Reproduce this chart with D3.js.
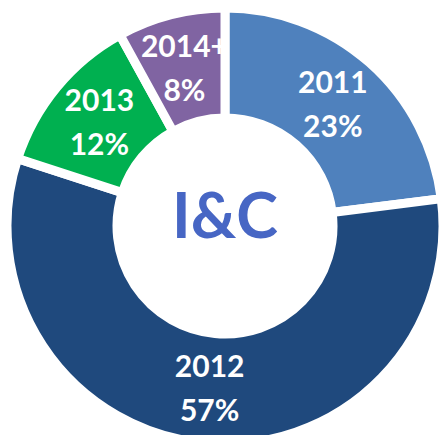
<!DOCTYPE html>
<html>
<head>
<meta charset="utf-8">
<script src="https://cdn.jsdelivr.net/npm/d3@7"></script>
<style>
  html, body { margin: 0; padding: 0; background: #ffffff; }
  svg { display: block; }
</style>
</head>
<body>
<svg id="chart" width="439" height="435"></svg>
<script>
// slice data
var categories = ["2011", "2012", "2013", "2014+"];
var shares = [23, 57, 12, 8];
var sliceColors = ["#4f81bd", "#1f497d", "#00b050", "#8064a2"];
var centerLabel = "I&C";

var width = 439, height = 435;
var cx = 225, cy = 226;
var outerR = 218, innerR = 108;

var data = categories.map(function (c, i) {
    return { name: c, value: shares[i], color: sliceColors[i] };
});

var svg = d3.select("#chart");
var g = svg.append("g").attr("transform", "translate(" + cx + "," + cy + ")");

var pie = d3.pie()
    .sort(null)
    .value(function (d) { return d.value; });

var arc = d3.arc()
    .innerRadius(innerR)
    .outerRadius(outerR);

var labelArc = d3.arc()
    .innerRadius(113)
    .outerRadius(213);

var arcs = pie(data);

// slices, white stroke makes the gaps
g.selectAll("path.slice")
    .data(arcs)
    .enter()
    .append("path")
    .attr("class", "slice")
    .attr("d", arc)
    .attr("fill", function (d) { return d.data.color; })
    .attr("stroke", "#ffffff")
    .attr("stroke-width", 9)
    .attr("stroke-linejoin", "miter");

// labels at centroid, two lines each
var labels = g.selectAll("text.label")
    .data(arcs)
    .enter()
    .append("text")
    .attr("class", "label")
    .attr("transform", function (d) { return "translate(" + labelArc.centroid(d) + ")"; })
    .attr("text-anchor", "middle")
    .attr("fill", "#ffffff")
    .style("font-family", "Lato, 'Open Sans', sans-serif")
    .style("font-weight", "bold")
    .style("font-size", "30px");

labels.append("tspan")
    .attr("x", 0)
    .attr("y", -11)
    .text(function (d) { return d.data.name; });

labels.append("tspan")
    .attr("x", 0)
    .attr("y", 33)
    .text(function (d) { return d.data.value + "%"; });

g.append("text")
    .attr("text-anchor", "middle")
    .attr("y", 12)
    .attr("fill", "#4766c4")
    .style("font-family", "Lato, 'Open Sans', sans-serif")
    .style("font-weight", "bold")
    .style("font-size", "63px")
    .text(centerLabel);
</script>
</body>
</html>
